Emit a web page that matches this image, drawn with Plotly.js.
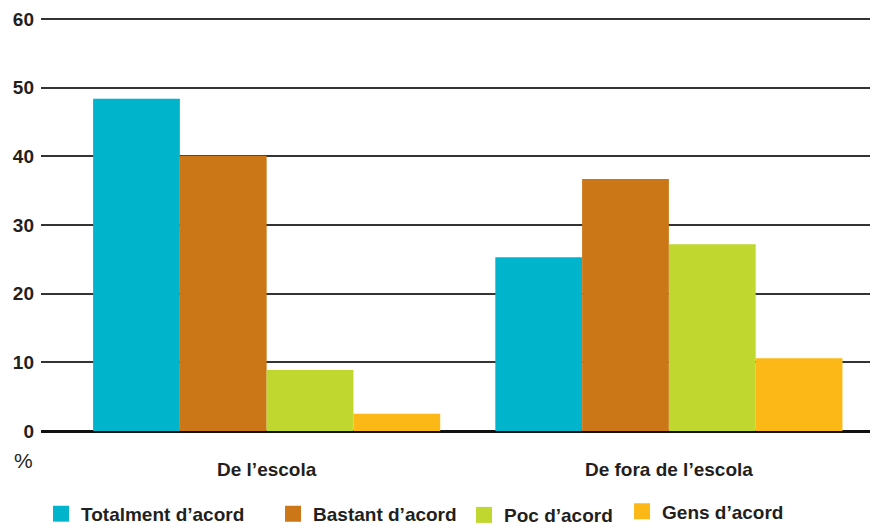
<!DOCTYPE html>
<html><head><meta charset="utf-8">
<script src="https://cdn.plot.ly/plotly-3.0.1.min.js"></script>
<style>html,body{margin:0;padding:0;background:#fff}#chart{width:870px;height:525px}</style>
</head><body><div id="chart"></div>
<script>
const categories = ["De l’escola", "De fora de l’escola"];
const seriesNames = ["Totalment d’acord", "Bastant d’acord", "Poc d’acord", "Gens d’acord"];
const totalment = [48.4, 25.3];
const bastant = [40.1, 36.7];
const poc = [8.9, 27.2];
const gens = [2.5, 10.6];
const colors = ["#00b4cb", "#cc7717", "#bfd72f", "#fbb817"];
const yTicks = [0, 10, 20, 30, 40, 50, 60];

const values = [totalment, bastant, poc, gens];
const legendIds = ["legend", "legend2", "legend3", "legend4"];
const barTraces = values.map((v, i) => ({
  type: "bar", x: categories, y: v, name: seriesNames[i],
  marker: {color: colors[i], line: {width: 0}}, hoverinfo: "skip", showlegend: false
}));
const legendTraces = seriesNames.map((n, i) => ({
  type: "scatter", mode: "markers", x: [null], y: [null], name: n,
  marker: {symbol: "square", size: 18, color: colors[i]},
  legend: legendIds[i], hoverinfo: "skip", showlegend: true
}));

const legFont = {size: 19, weight: "bold", color: "#231f20", family: "Liberation Sans, Arial, sans-serif"};
const legX = [0.0, 0.2799, 0.5103, 0.7009];
const legY = [-0.2, -0.2, -0.203, -0.194];
const mkLegend = (i) => ({
  orientation: "h", x: legX[i], xanchor: "left", y: legY[i], yanchor: "middle",
  font: legFont, bgcolor: "rgba(0,0,0,0)", itemwidth: 30, tracegroupgap: 0
});

const layout = {
  width: 870, height: 525,
  margin: {l: 41, r: 0, t: 17, b: 94, autoexpand: false},
  paper_bgcolor: "#fff", plot_bgcolor: "#fff",
  font: {family: "Liberation Sans, Arial, sans-serif", color: "#231f20"},
  barmode: "group", bargap: 0.137, bargroupgap: 0,
  xaxis: {
    type: "category", range: [-0.561, 1.5], showgrid: false, zeroline: false,
    showline: false, ticks: "", ticklabelstandoff: 25, automargin: false,
    tickfont: {size: 19, weight: "bold", color: "#231f20"}
  },
  yaxis: {
    range: [0, 60.3], tickvals: yTicks, ticktext: yTicks.map(String),
    showgrid: true, gridcolor: "#333", gridwidth: 2,
    zeroline: true, zerolinecolor: "#111", zerolinewidth: 3,
    ticks: "", ticklabelstandoff: 6, automargin: false,
    tickfont: {size: 19, weight: "bold", color: "#231f20"}
  },
  showlegend: true,
  legend: mkLegend(0), legend2: mkLegend(1), legend3: mkLegend(2), legend4: mkLegend(3),
  annotations: [{
    text: "%", xref: "paper", yref: "paper", x: -0.0217, y: -0.0704,
    xanchor: "center", yanchor: "middle", showarrow: false,
    font: {size: 21, color: "#231f20"}
  }]
};
Plotly.newPlot("chart", barTraces.concat(legendTraces), layout, {displayModeBar: false, staticPlot: true});
</script></body></html>
